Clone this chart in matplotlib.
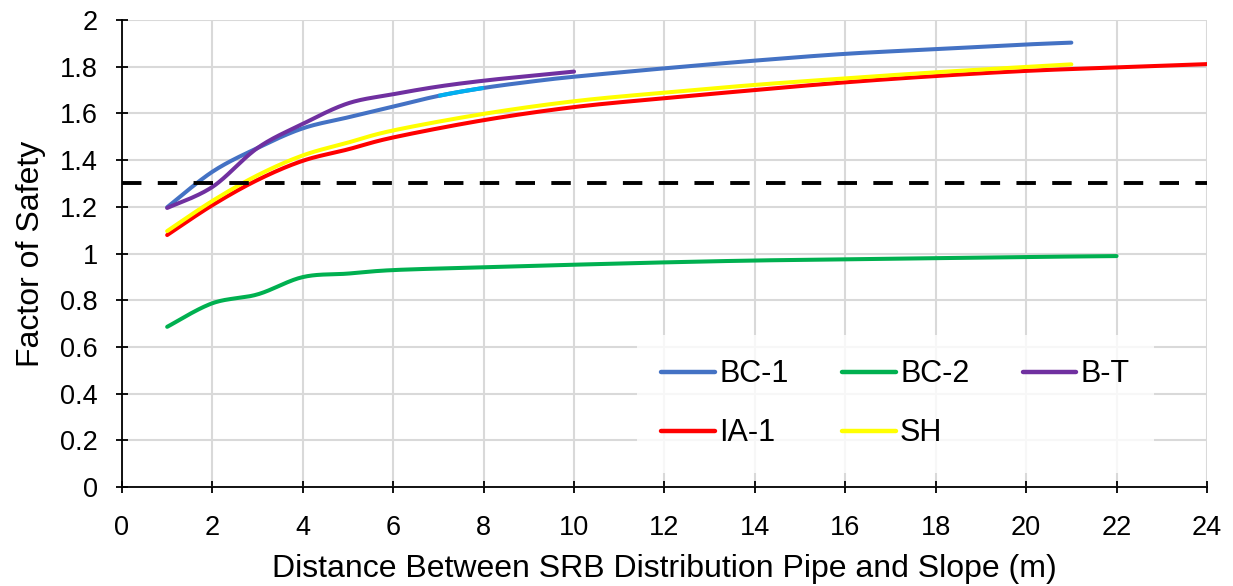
import numpy as np
import matplotlib
matplotlib.use("Agg")
import matplotlib.pyplot as plt

plt.rcParams['font.family'] = ['Liberation Sans', 'DejaVu Sans']

# ---------------- data ----------------
dist_bc1 = [1, 2, 3, 4, 5, 6, 7, 8, 9, 10, 12, 14, 16, 18, 20, 21]
fos_bc1 = [1.198, 1.350, 1.452, 1.536, 1.583, 1.629, 1.675, 1.709, 1.735, 1.757,
           1.793, 1.826, 1.855, 1.875, 1.895, 1.903]

dist_bc2 = [1, 2, 3, 4, 5, 6, 8, 10, 12, 14, 16, 18, 20, 22]
fos_bc2 = [0.686, 0.787, 0.825, 0.899, 0.914, 0.929, 0.941, 0.952, 0.962,
           0.970, 0.975, 0.980, 0.985, 0.989]

dist_bt = [1, 2, 3, 4, 5, 6, 7, 8, 9, 10]
fos_bt = [1.195, 1.285, 1.452, 1.555, 1.643, 1.682, 1.715, 1.740, 1.760, 1.779]

dist_ia1 = [1, 2, 3, 4, 5, 6, 8, 10, 12, 14, 16, 18, 20, 22, 24]
fos_ia1 = [1.079, 1.207, 1.315, 1.397, 1.446, 1.497, 1.571, 1.627, 1.665,
           1.700, 1.733, 1.760, 1.782, 1.797, 1.811]

dist_sh = [1, 2, 3, 4, 5, 6, 8, 10, 12, 14, 16, 18, 20, 21]
fos_sh = [1.096, 1.225, 1.335, 1.420, 1.475, 1.527, 1.598, 1.652, 1.689,
          1.722, 1.750, 1.776, 1.799, 1.810]

series_names = ["BC-1", "BC-2", "B-T", "IA-1", "SH"]
series_colors = ["#4472C4", "#00B050", "#7030A0", "#FF0000", "#FFFF00"]
highlight_color = "#00B0F0"
highlight_range = (7, 8)          # segment of BC-1 drawn in light blue
threshold_fos = 1.3

x_ticks = list(range(0, 25, 2))
y_ticks = [0, 0.2, 0.4, 0.6, 0.8, 1, 1.2, 1.4, 1.6, 1.8, 2]
y_tick_labels = ["0", "0.2", "0.4", "0.6", "0.8", "1", "1.2", "1.4", "1.6", "1.8", "2"]
x_label = "Distance Between SRB Distribution Pipe and Slope (m)"
y_label = "Factor of Safety"


def smooth(xs, ys, n=30):
    """Excel-like smoothed line (Catmull-Rom as cubic Bezier)."""
    P = np.column_stack([xs, ys]).astype(float)
    m = len(P)
    out = [P[0]]
    t = np.linspace(0, 1, n)[1:, None]
    for i in range(m - 1):
        p0 = P[i - 1] if i > 0 else P[i]
        p1 = P[i]
        p2 = P[i + 1]
        p3 = P[i + 2] if i + 2 < m else P[i + 1]
        c1 = p1 + (p2 - p0) / 6.0
        c2 = p2 - (p3 - p1) / 6.0
        seg = ((1 - t) ** 3) * p1 + 3 * ((1 - t) ** 2) * t * c1 + 3 * (1 - t) * t ** 2 * c2 + t ** 3 * p2
        out.extend(seg)
    out = np.array(out)
    return out[:, 0], out[:, 1]


fig = plt.figure(figsize=(12.33, 5.86), dpi=100)
ax = fig.add_axes([0.0989, 0.1689, 0.88, 0.7970])

lw = 2.9
handles = {}
all_series = [(dist_bc1, fos_bc1), (dist_bc2, fos_bc2), (dist_bt, fos_bt),
              (dist_ia1, fos_ia1), (dist_sh, fos_sh)]
for (xs, ys), name, col in zip(all_series, series_names, series_colors):
    sx, sy = smooth(xs, ys)
    ln, = ax.plot(sx, sy, color=col, lw=lw, label=name, solid_capstyle='round', zorder=3)
    handles[name] = ln
    if name == "BC-1":
        mask = (sx >= highlight_range[0]) & (sx <= highlight_range[1])
        ax.plot(sx[mask], sy[mask], color=highlight_color, lw=lw, zorder=3.1,
                solid_capstyle='butt')

ax.axhline(threshold_fos, color='black', lw=2.8, dashes=(5.0, 4.2), zorder=4)

ax.set_xlim(0, 24)
ax.set_ylim(0, 2)
ax.set_xticks(x_ticks)
ax.set_yticks(y_ticks)
ax.set_yticklabels(y_tick_labels)
ax.grid(True, color='#D9D9D9', lw=1.5, zorder=0)
ax.set_axisbelow(True)
for s in ['top', 'right']:
    ax.spines[s].set_visible(False)
for s in ['left', 'bottom']:
    ax.spines[s].set_color('black')
    ax.spines[s].set_linewidth(1.3)
ax.tick_params(axis='both', direction='inout', length=9, width=1.3,
               labelsize=19.5, colors='black')
ax.tick_params(axis='x', pad=16)
ax.tick_params(axis='y', pad=13)

ax.set_xlabel(x_label, fontsize=23, labelpad=9)
ax.set_ylabel(y_label, fontsize=23, labelpad=10)

# column-major fill -> row order BC-1, BC-2, B-T / IA-1, SH
order = ["BC-1", "IA-1", "BC-2", "SH", "B-T"]
leg = ax.legend([handles[k] for k in order], order,
                loc='center', bbox_to_anchor=(0.713, 0.178), ncol=3,
                fontsize=22, frameon=True, framealpha=0.8, edgecolor='none',
                facecolor='white', handlelength=1.75, handletextpad=0.15,
                columnspacing=1.75, labelspacing=0.95, borderpad=0.8, fancybox=False)
for h in leg.get_lines():
    h.set_linewidth(3.2)
    h.set_solid_capstyle('round')
leg.set_zorder(5)

fig.savefig("out.png", dpi=100)
